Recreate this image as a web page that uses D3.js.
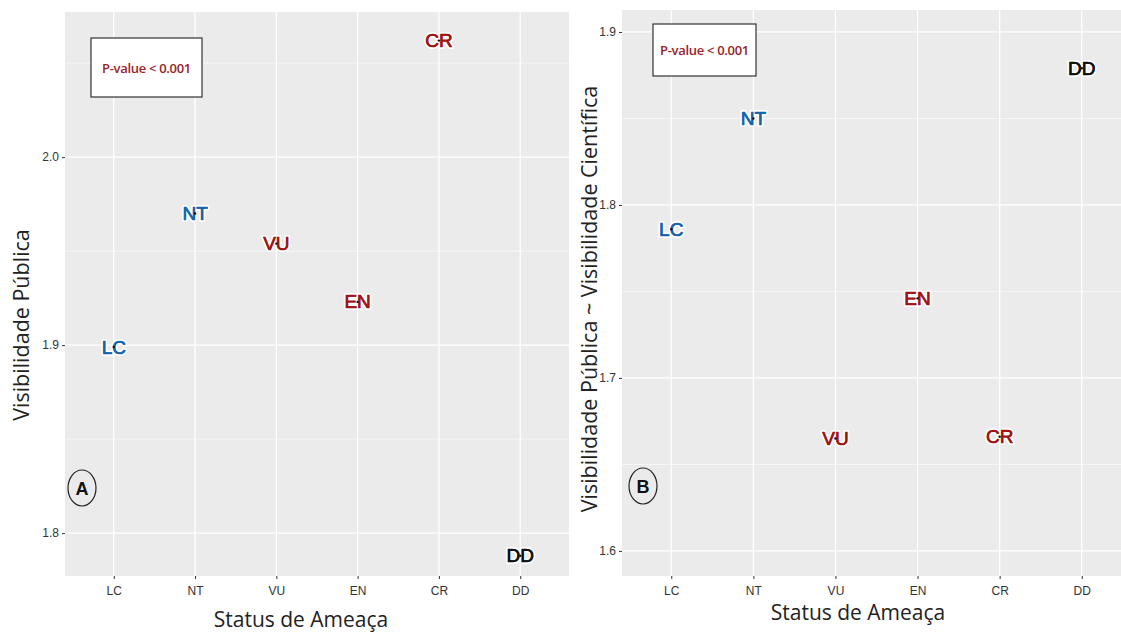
<!DOCTYPE html>
<html>
<head>
<meta charset="utf-8">
<script src="https://cdn.jsdelivr.net/npm/d3@7"></script>
<style>
  body { margin: 0; background: #fff; }
  svg { display: block; }
</style>
</head>
<body>
<div id="chart"></div>
<script>
// threat categories and the two response measures
const categories = ['LC', 'NT', 'VU', 'EN', 'CR', 'DD'];
const visPublica = [1.899, 1.970, 1.954, 1.923, 2.062, 1.788];
const visRatio = [1.786, 1.850, 1.665, 1.746, 1.666, 1.879];
const ticksA = [1.8, 1.9, 2.0];
const ticksB = [1.6, 1.7, 1.8, 1.9];
const pLabel = 'P-value < 0.001';

const catColor = {
  LC: '#1565ad', NT: '#1565ad',
  VU: '#a01414', EN: '#a01414', CR: '#a01414',
  DD: '#111111'
};

const W = 1121, H = 632;
const svg = d3.select('#chart').append('svg')
  .attr('width', W).attr('height', H);

function drawPanel(opt) {
  const { left, right, top, bottom, yDomain, ticks, values } = opt;

  const x = d3.scalePoint().domain(categories).range([left, right]).padding(0.6);
  const y = d3.scaleLinear().domain(yDomain).range([bottom, top]);

  const g = svg.append('g');

  // panel background
  g.append('rect')
    .attr('x', left).attr('y', top)
    .attr('width', right - left).attr('height', bottom - top)
    .attr('fill', '#ebebeb');

  // minor grid (midpoints)
  const minor = d3.range(ticks.length + 1).map(i => ticks[0] + (i - 0.5) * 0.1)
    .filter(v => v > yDomain[0] && v < yDomain[1]);
  g.selectAll('.minor').data(minor).join('line')
    .attr('x1', left).attr('x2', right)
    .attr('y1', d => y(d)).attr('y2', d => y(d))
    .attr('stroke', '#fff').attr('stroke-width', 0.6);

  // major grid
  g.selectAll('.hmaj').data(ticks).join('line')
    .attr('x1', left).attr('x2', right)
    .attr('y1', d => y(d)).attr('y2', d => y(d))
    .attr('stroke', '#fff').attr('stroke-width', 1.2);
  g.selectAll('.vmaj').data(categories).join('line')
    .attr('x1', d => x(d)).attr('x2', d => x(d))
    .attr('y1', top).attr('y2', bottom)
    .attr('stroke', '#fff').attr('stroke-width', 1.2);

  // axes
  const ax = g.append('g')
    .attr('transform', `translate(0,${bottom})`)
    .call(d3.axisBottom(x).tickSize(3).tickPadding(5));
  const ay = g.append('g')
    .attr('transform', `translate(${left},0)`)
    .call(d3.axisLeft(y).tickValues(ticks).tickSize(3).tickPadding(3).tickFormat(d3.format('.1f')));
  [ax, ay].forEach(a => {
    a.select('.domain').remove();
    a.selectAll('line').attr('stroke', '#333');
    a.selectAll('text').attr('fill', '#333')
      .style('font-family', '"Liberation Sans", Arial, sans-serif')
      .style('font-size', '12px');
  });
  ax.selectAll('text').attr('dy', '0.9em');

  // labels at points
  const pts = g.selectAll('.pt').data(categories).join('g')
    .attr('transform', (d, i) => `translate(${x(d)},${y(values[i])})`);
  pts.append('text')
    .attr('text-anchor', 'middle')
    .attr('dominant-baseline', 'central')
    .attr('fill', d => catColor[d])
    .attr('stroke', '#fff').attr('stroke-width', 4)
    .attr('paint-order', 'stroke')
    .attr('stroke-linejoin', 'round')
    .style('font-family', '"Liberation Sans", Arial, sans-serif')
    .style('font-size', '19px')
    .text(d => d);
  pts.append('text')
    .attr('text-anchor', 'middle')
    .attr('dominant-baseline', 'central')
    .attr('fill', d => catColor[d])
    .attr('stroke', d => catColor[d]).attr('stroke-width', 0.6)
    .style('font-family', '"Liberation Sans", Arial, sans-serif')
    .style('font-size', '19px')
    .text(d => d);
  pts.append('circle').attr('r', 1.2).attr('fill', '#111');

  // p-value box
  const b = opt.box;
  g.append('rect')
    .attr('x', b.x).attr('y', b.y).attr('width', b.w).attr('height', b.h)
    .attr('fill', '#fff').attr('stroke', '#333').attr('stroke-width', 1.2);
  g.append('text')
    .attr('x', b.x + b.w / 2).attr('y', b.y + b.h / 2)
    .attr('text-anchor', 'middle').attr('dominant-baseline', 'central')
    .attr('fill', '#9b2226').attr('font-weight', 600)
    .style('font-family', '"Open Sans", "Noto Sans", sans-serif')
    .style('font-size', '13px')
    .style('letter-spacing', '-0.3px')
    .text(pLabel);

  // panel letter
  const c = opt.letter;
  g.append('ellipse')
    .attr('cx', c.x).attr('cy', c.y).attr('rx', 14).attr('ry', 18)
    .attr('fill', 'none').attr('stroke', '#222').attr('stroke-width', 1.2);
  g.append('text')
    .attr('x', c.x).attr('y', c.y + 1)
    .attr('text-anchor', 'middle').attr('dominant-baseline', 'central')
    .attr('fill', '#111').attr('font-weight', 'bold')
    .style('font-family', '"Liberation Sans", Arial, sans-serif')
    .style('font-size', '18px')
    .text(c.t);

  // titles
  g.append('text')
    .attr('x', opt.xTitle.x).attr('y', opt.xTitle.y)
    .attr('text-anchor', 'middle')
    .attr('fill', '#222')
    .style('font-family', '"Open Sans", "Noto Sans", sans-serif')
    .style('font-size', opt.xTitle.fs)
    .text('Status de Ameaça');
  g.append('text')
    .attr('transform', `translate(${opt.yTitle.x},${opt.yTitle.y}) rotate(-90)`)
    .attr('text-anchor', 'middle')
    .attr('fill', '#222')
    .style('font-family', '"Open Sans", "Noto Sans", sans-serif')
    .style('font-size', opt.yTitle.fs)
    .text(opt.yTitle.t);
}

drawPanel({
  left: 65, right: 569, top: 12, bottom: 576,
  yDomain: [1.7772, 2.0772], ticks: ticksA, values: visPublica,
  box: { x: 91, y: 38, w: 111, h: 59 },
  letter: { x: 82, y: 488, t: 'A' },
  xTitle: { x: 301, y: 627, fs: '21px' },
  yTitle: { x: 29, y: 325, t: 'Visibilidade Pública', fs: '21.5px' }
});

drawPanel({
  left: 622, right: 1131, top: 10, bottom: 576,
  yDomain: [1.5855, 1.9127], ticks: ticksB, values: visRatio,
  box: { x: 653, y: 24, w: 103, h: 52 },
  letter: { x: 643, y: 486, t: 'B' },
  xTitle: { x: 858, y: 620, fs: '21px' },
  yTitle: { x: 597, y: 299, t: 'Visibilidade Pública ~ Visibilidade Científica', fs: '21.5px' }
});
</script>
</body>
</html>
